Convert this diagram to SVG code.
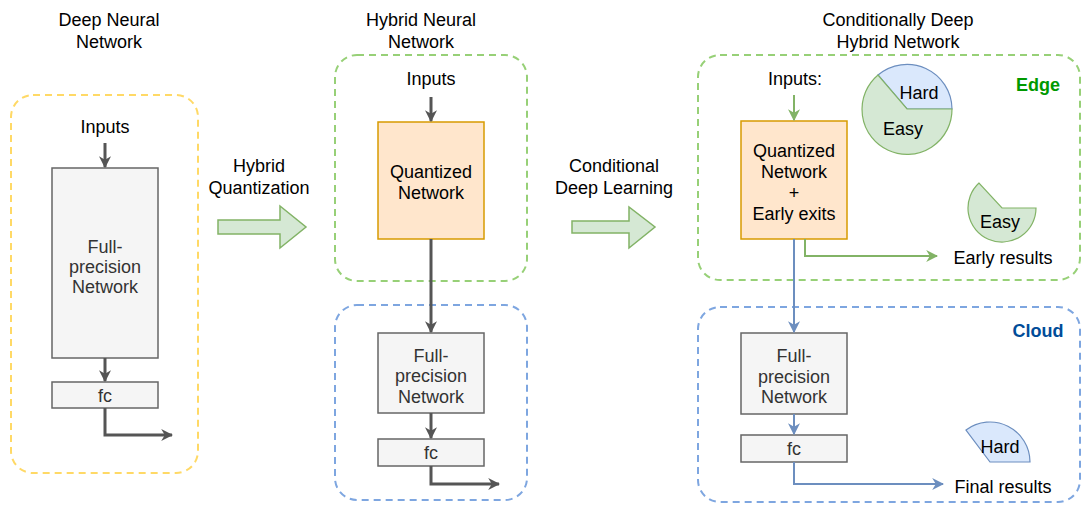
<svg xmlns="http://www.w3.org/2000/svg" width="1085" height="508" viewBox="0 0 1085 508">
<defs>
<style>
text{font-family:"Liberation Sans",Arial,Helvetica,sans-serif;font-size:18px;fill:#000;text-anchor:middle}
.g{fill:#333333}
.box{fill:#f5f5f5;stroke:#666666;stroke-width:1.5}
.orange{fill:#ffe6cc;stroke:#d79b00;stroke-width:1.5}
.cont{fill:none;stroke-width:2;stroke-dasharray:7 5}
.dk{fill:none;stroke:#555555;stroke-width:3}
.bl{fill:none;stroke:#6c8ebf;stroke-width:2}
.gr{fill:none;stroke:#82b366;stroke-width:2}
.bigarrow{fill:#d5e8d4;stroke:#82b366;stroke-width:1.5}
</style>
<marker id="ad" viewBox="0 0 10 10" refX="9" refY="5" markerWidth="4" markerHeight="4" orient="auto" markerUnits="strokeWidth"><path d="M0,0 L10,5 L0,10 L3,5 Z" fill="#555555"/></marker>
<marker id="ab" viewBox="0 0 10 10" refX="9" refY="5" markerWidth="6" markerHeight="6" orient="auto" markerUnits="strokeWidth"><path d="M0,0 L10,5 L0,10 L3,5 Z" fill="#6c8ebf"/></marker>
<marker id="ag" viewBox="0 0 10 10" refX="9" refY="5" markerWidth="6" markerHeight="6" orient="auto" markerUnits="strokeWidth"><path d="M0,0 L10,5 L0,10 L3,5 Z" fill="#82b366"/></marker>
</defs>
<rect width="1085" height="508" fill="#ffffff"/>

<!-- titles -->
<g id="titles">
<text x="109" y="26">Deep Neural</text><text x="109" y="48">Network</text>
<text x="421" y="26">Hybrid Neural</text><text x="421" y="48">Network</text>
<text x="898" y="26">Conditionally Deep</text><text x="898" y="48">Hybrid Network</text>
</g>

<!-- containers -->
<g id="containers">
<rect id="dnn-container" class="cont" x="11" y="95" width="187" height="378" rx="22" stroke="#ffd966"/>
<rect id="hnn-edge" class="cont" x="335" y="55" width="192" height="226" rx="22" stroke="#97d077"/>
<rect id="hnn-cloud" class="cont" x="335" y="305" width="192" height="195" rx="22" stroke="#7ea6e0"/>
<rect id="cdhn-edge" class="cont" x="698" y="55" width="382" height="225" rx="22" stroke="#97d077"/>
<rect id="cdhn-cloud" class="cont" x="698" y="307" width="382" height="195" rx="22" stroke="#7ea6e0"/>
<text x="1038" y="91" style="font-weight:bold;fill:#009900">Edge</text>
<text x="1038" y="337" style="font-weight:bold;fill:#004c99">Cloud</text>
</g>

<!-- transition arrows -->
<g id="hybrid-quantization">
<text x="259" y="172">Hybrid</text><text x="259" y="194">Quantization</text>
<path class="bigarrow" d="M218,220 L280,220 L280,206 L306,227 L280,248 L280,234 L218,234 Z"/>
</g>
<g id="conditional-deep-learning">
<text x="614" y="172">Conditional</text><text x="614" y="194">Deep Learning</text>
<path class="bigarrow" d="M572,221 L629,221 L629,207 L655,227 L629,248 L629,233 L572,233 Z"/>
</g>

<!-- DNN nodes -->
<g id="dnn-inputs"><text x="105" y="133">Inputs</text></g>
<g id="dnn-fp"><rect class="box" x="52" y="168" width="106" height="190"/>
<text class="g" x="105" y="253">Full-</text><text class="g" x="105" y="273">precision</text><text class="g" x="105" y="293">Network</text></g>
<g id="dnn-fc"><rect class="box" x="52" y="382" width="106" height="26"/><text class="g" x="105" y="402">fc</text></g>

<!-- HNN nodes -->
<g id="hnn-inputs"><text x="431" y="85">Inputs</text></g>
<g id="hnn-q"><rect class="orange" x="378" y="122" width="106" height="117"/>
<text x="431" y="178">Quantized</text><text x="431" y="199">Network</text></g>
<g id="hnn-fp"><rect class="box" x="378" y="333" width="106" height="80"/>
<text class="g" x="431" y="362">Full-</text><text class="g" x="431" y="382">precision</text><text class="g" x="431" y="403">Network</text></g>
<g id="hnn-fc"><rect class="box" x="378" y="439" width="106" height="27"/><text class="g" x="431" y="459">fc</text></g>

<!-- CDHN nodes -->
<g id="cdhn-inputs"><text x="795" y="85">Inputs:</text></g>
<g id="cdhn-q"><rect class="orange" x="741" y="121" width="106" height="118"/>
<text x="794" y="157">Quantized</text><text x="794" y="178">Network</text><text x="794" y="199">+</text><text x="794" y="220">Early exits</text></g>
<g id="cdhn-fp"><rect class="box" x="741" y="333" width="106" height="81"/>
<text class="g" x="794" y="362">Full-</text><text class="g" x="794" y="383">precision</text><text class="g" x="794" y="403">Network</text></g>
<g id="cdhn-fc"><rect class="box" x="741" y="435" width="106" height="27"/><text class="g" x="794" y="455">fc</text></g>

<g id="pie">
<path d="M952,109 A45,45 0 0 0 878,75 L907,109 Z" fill="#dae8fc" stroke="#6c8ebf" stroke-width="1.2"/>
<path d="M878,75 A45,45 0 1 0 952,109 L907,109 Z" fill="#d5e8d4" stroke="#82b366" stroke-width="1.2"/>
<text x="919" y="99">Hard</text><text x="903" y="135">Easy</text>
</g>
<g id="easy-slice">
<path d="M979,183 A34,34 0 1 0 1036,208 L1002,208 Z" fill="#d5e8d4" stroke="#82b366" stroke-width="1.2"/>
<text x="1000" y="228">Easy</text>
</g>
<g id="hard-slice">
<path d="M1030,462 A40,40 0 0 0 966,430 L990,462 Z" fill="#dae8fc" stroke="#6c8ebf" stroke-width="1.2"/>
<text x="1000" y="453">Hard</text>
</g>
<g id="early-results"><text x="1003" y="264">Early results</text></g>
<g id="final-results"><text x="1003" y="493">Final results</text></g>

<!-- connectors -->
<g id="connectors">
<path class="dk" d="M105,143 L105,167" marker-end="url(#ad)"/>
<path class="dk" d="M105,358 L105,381" marker-end="url(#ad)"/>
<path class="dk" d="M105,408 L105,435 L172,435" marker-end="url(#ad)"/>
<path class="dk" d="M431,97 L431,121" marker-end="url(#ad)"/>
<path class="dk" d="M431,239 L431,332" marker-end="url(#ad)"/>
<path class="dk" d="M431,413 L431,438" marker-end="url(#ad)"/>
<path class="dk" d="M431,466 L431,484 L499,484" marker-end="url(#ad)"/>
<path class="bl" d="M794,95 L794,120"/>
<path class="gr" d="M794,95 L794,120" marker-end="url(#ag)"/>
<path class="gr" d="M805,239 L805,256 L937,256" marker-end="url(#ag)"/>
<path class="bl" d="M794,239 L794,332" marker-end="url(#ab)"/>
<path class="bl" d="M794,414 L794,434" marker-end="url(#ab)"/>
<path class="bl" d="M794,462 L794,484 L943,484" marker-end="url(#ab)"/>
</g>
</svg>
